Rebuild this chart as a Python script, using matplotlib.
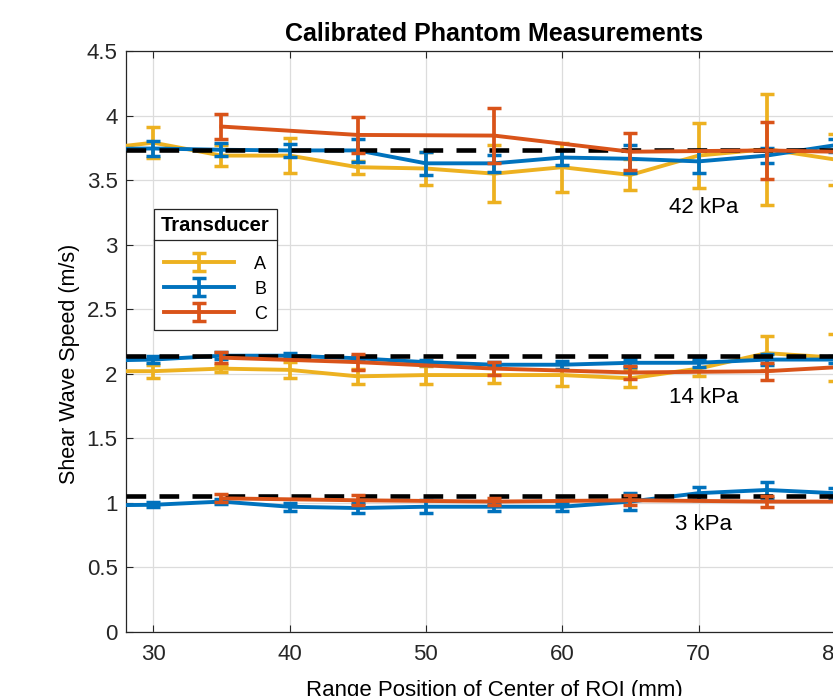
import matplotlib
matplotlib.use("Agg")
import matplotlib.pyplot as plt
from matplotlib.lines import Line2D
from matplotlib.transforms import IdentityTransform

plt.rcParams['font.family'] = ['Liberation Sans', 'DejaVu Sans']

# ---------------- data ----------------
x_ab = [25, 30, 35, 40, 45, 50, 55, 60, 65, 70, 75, 80]
x_c = [35, 45, 55, 65, 75, 85]

ref_speeds = [3.73, 2.14, 1.05]
ref_labels = ["42 kPa", "14 kPa", "3 kPa"]
ref_label_y = [3.29, 1.82, 0.83]

# 42 kPa
a42 = [3.73, 3.79, 3.69, 3.69, 3.60, 3.59, 3.55, 3.60, 3.54, 3.69, 3.74, 3.66]
a42_err = [0.10, 0.12, 0.08, 0.135, 0.05, 0.13, 0.22, 0.19, 0.12, 0.25, 0.43, 0.20]
b42 = [3.74, 3.745, 3.735, 3.73, 3.73, 3.63, 3.63, 3.675, 3.665, 3.645, 3.69, 3.77]
b42_err = [0.05, 0.055, 0.05, 0.05, 0.09, 0.09, 0.065, 0.06, 0.11, 0.09, 0.06, 0.05]
c42 = [3.915, 3.85, 3.845, 3.72, 3.73, 3.71]
c42_err = [0.10, 0.14, 0.21, 0.145, 0.22, 0.10]

# 14 kPa
a14 = [2.02, 2.02, 2.04, 2.03, 1.98, 1.99, 1.99, 1.99, 1.965, 2.04, 2.16, 2.125]
a14_err = [0.05, 0.05, 0.03, 0.06, 0.06, 0.07, 0.06, 0.085, 0.065, 0.06, 0.13, 0.18]
b14 = [2.10, 2.11, 2.14, 2.14, 2.12, 2.09, 2.07, 2.07, 2.085, 2.085, 2.11, 2.11]
b14_err = [0.02, 0.025, 0.025, 0.02, 0.02, 0.02, 0.02, 0.03, 0.03, 0.03, 0.04, 0.03]
c14 = [2.125, 2.09, 2.04, 2.01, 2.02, 2.08]
c14_err = [0.045, 0.06, 0.05, 0.05, 0.065, 0.05]

# 3 kPa
b3 = [0.98, 0.985, 1.01, 0.97, 0.96, 0.97, 0.97, 0.97, 1.01, 1.075, 1.10, 1.075]
b3_err = [0.02, 0.02, 0.02, 0.03, 0.04, 0.05, 0.03, 0.03, 0.065, 0.05, 0.065, 0.04]
c3 = [1.035, 1.02, 1.01, 1.02, 1.01, 1.01]
c3_err = [0.03, 0.04, 0.03, 0.04, 0.04, 0.03]

x_ticks = [30, 40, 50, 60, 70, 80]
y_ticks = [0, 0.5, 1, 1.5, 2, 2.5, 3, 3.5, 4, 4.5]
y_ticklabels = ["0", "0.5", "1", "1.5", "2", "2.5", "3", "3.5", "4", "4.5"]

col_a = "#EDB120"
col_b = "#0072BD"
col_c = "#D95319"

# ---------------- figure ----------------
fig = plt.figure(figsize=(8.33, 6.96), dpi=100)
ax = fig.add_axes([0.1513, 0.092, 0.8836, 0.8347])

eb_kw = dict(lw=2.8, elinewidth=2.7, capsize=4.8, capthick=2.5)

hA = ax.errorbar(x_ab, a42, yerr=a42_err, color=col_a, zorder=3, **eb_kw)
ax.errorbar(x_ab, a14, yerr=a14_err, color=col_a, zorder=3, **eb_kw)
hB = ax.errorbar(x_ab, b42, yerr=b42_err, color=col_b, zorder=4, **eb_kw)
ax.errorbar(x_ab, b14, yerr=b14_err, color=col_b, zorder=4, **eb_kw)
ax.errorbar(x_ab, b3, yerr=b3_err, color=col_b, zorder=4, **eb_kw)

for v in ref_speeds:
    ax.axhline(v, color="k", lw=3.3, dashes=[4.3, 2.9], zorder=5)

hC = ax.errorbar(x_c, c42, yerr=c42_err, color=col_c, zorder=6, **eb_kw)
ax.errorbar(x_c, c14, yerr=c14_err, color=col_c, zorder=6, **eb_kw)
ax.errorbar(x_c, c3, yerr=c3_err, color=col_c, zorder=6, **eb_kw)

for lab, ly in zip(ref_labels, ref_label_y):
    ax.text(70.4, ly, lab, ha="center", va="center", fontsize=16, zorder=7)

ax.set_xlim(28, 82)
ax.set_ylim(0, 4.5)
ax.set_xticks(x_ticks)
ax.set_yticks(y_ticks)
ax.set_yticklabels(y_ticklabels)
ax.tick_params(axis="both", which="both", direction="in", length=5, width=0.8,
               labelsize=16, colors="#262626", top=True, right=True)
ax.tick_params(axis="x", pad=9)
ax.tick_params(axis="y", pad=6)
ax.grid(True, color="#dcdcdc", lw=0.9, zorder=0)
ax.set_axisbelow(True)
for s in ax.spines.values():
    s.set_color("#262626")
    s.set_linewidth(0.9)

ax.set_title("Calibrated Phantom Measurements", fontsize=18, fontweight="bold", pad=7)
ax.set_xlabel("Range Position of Center of ROI (mm)", fontsize=16)
ax.set_ylabel("Shear Wave Speed (m/s)", fontsize=15.5)
ax.xaxis.set_label_coords(0.5, -0.082)
ax.yaxis.set_label_coords(-0.0625, 0.461)

leg = ax.legend([hA, hB, hC], ["A", "B", "C"], title="Transducer",
                loc="upper left", bbox_to_anchor=(0.038, 0.728), borderaxespad=0,
                frameon=True, fancybox=False, edgecolor="#262626", framealpha=1,
                handlelength=3.9, handleheight=1.0, handletextpad=1.1, fontsize=13,
                title_fontproperties={"weight": "bold", "size": 14.5},
                borderpad=0.4, labelspacing=0.37)
leg.get_frame().set_linewidth(0.9)
leg.set_zorder(10)
leg._legend_box.sep = 14

fig.canvas.draw()
r = fig.canvas.get_renderer()
fb = leg.get_frame().get_window_extent(r)
tb = leg.get_title().get_window_extent(r)
ysep = tb.y0 - 5
sep = Line2D([fb.x0, fb.x1], [ysep, ysep], transform=IdentityTransform(),
             color="#262626", lw=0.9, zorder=11)
fig.add_artist(sep)

fig.savefig("out.png", dpi=100)
